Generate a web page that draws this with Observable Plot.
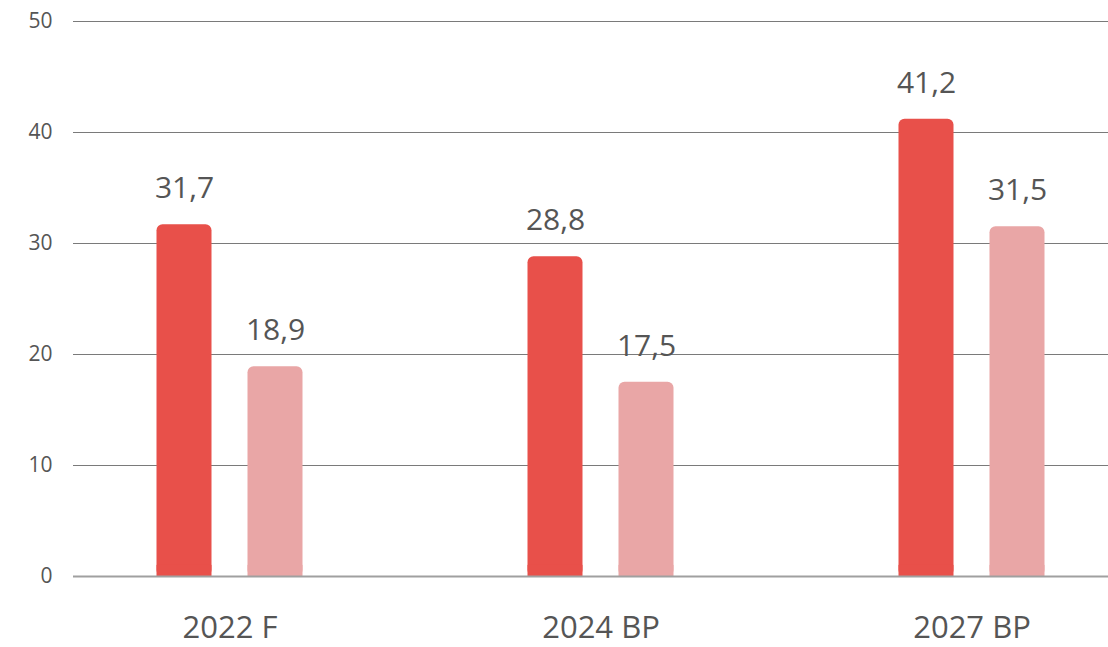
<!DOCTYPE html>
<html>
<head>
<meta charset="utf-8">
<script src="https://cdn.jsdelivr.net/npm/d3@7"></script>
<script src="https://cdn.jsdelivr.net/npm/@observablehq/plot@0.6"></script>
<style>
  html, body { margin: 0; padding: 0; background: #fff; }
  #chart { width: 1108px; height: 647px; }
</style>
</head>
<body>
<div id="chart"></div>
<script>
const groups = ["2022 F", "2024 BP", "2027 BP"];
const seriesA = [31.7, 28.8, 41.2];
const seriesB = [18.9, 17.5, 31.5];
const yTicks = [0, 10, 20, 30, 40, 50];

const dataA = groups.map((g, i) => ({group: g, value: seriesA[i]}));
const dataB = groups.map((g, i) => ({group: g, value: seriesB[i]}));

const red = "#E8504A";
const pink = "#E9A6A6";
const textColor = "#555555";
const font = "Open Sans, Lato, sans-serif";
const fmt = v => v.toFixed(1).replace(".", ",");
const off = 45.5;

const bars = (data, color, dx) => [
  Plot.barY(data, {x: "group", y: "value", fill: color, dx, rx: 6}),
  Plot.barY(data, {x: "group", y1: 0, y2: d => Math.min(d.value, 1), fill: color, dx})
];
const labels = (data, dx) =>
  Plot.text(data, {x: "group", y: "value", text: d => fmt(d.value), dx, dy: -36,
    fill: textColor, fontSize: 30, fontFamily: font, lineAnchor: "middle",
    letterSpacing: 0.5});

const chart = Plot.plot({
  width: 1108,
  height: 647,
  marginLeft: 73,
  marginRight: 0,
  marginTop: 21,
  marginBottom: 71,
  style: {fontFamily: font, background: "#fff"},
  x: {domain: groups, range: [43.5, 1156.5], paddingInner: 0.8518, paddingOuter: 0.4259, axis: null},
  y: {domain: [0, 50], axis: null},
  marks: [
    Plot.ruleY(yTicks.filter(t => t > 0), {stroke: "#7a7a7a", strokeWidth: 1}),
    ...bars(dataA, red, -off),
    ...bars(dataB, pink, off),
    Plot.ruleY([0], {stroke: "#a0a0a0", strokeWidth: 2}),
    Plot.text(yTicks, {y: d => d, text: d => String(d), frameAnchor: "left", dx: -21,
      textAnchor: "end", fill: textColor, fontSize: 21, fontFamily: font,
      lineAnchor: "middle", letterSpacing: 1}),
    labels(dataA, -off),
    labels(dataB, off),
    Plot.text(groups, {x: d => d, frameAnchor: "bottom", dy: 52, fill: textColor, fontSize: 31,
      fontFamily: font, lineAnchor: "middle", letterSpacing: 2})
  ]
});
document.getElementById("chart").appendChild(chart);
</script>
</body>
</html>
